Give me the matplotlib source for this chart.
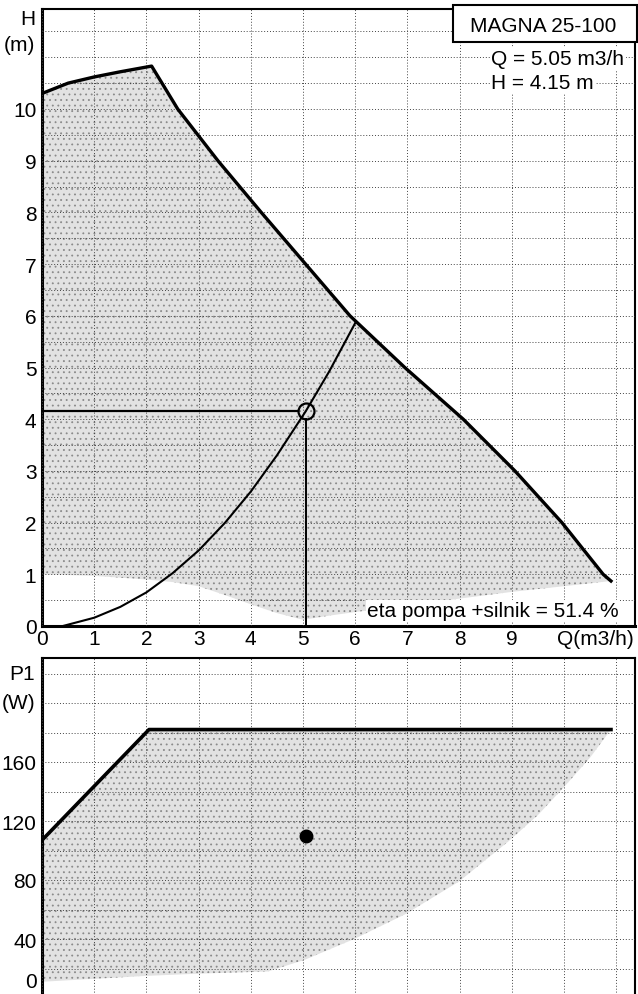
import numpy as np
import matplotlib.pyplot as plt
from matplotlib.patches import Rectangle

plt.rcParams['font.family'] = ['Liberation Sans', 'DejaVu Sans']
plt.rcParams['font.size'] = 15
plt.rcParams['hatch.linewidth'] = 0.6

# krzywa maksymalna H(Q)
q_max = [0, 0.5, 1, 1.5, 2.1, 2.6, 3.37, 4.2, 5.05, 5.9, 6.95, 8.07, 9.06, 9.96, 10.75, 10.9]
h_max = [10.3, 10.5, 10.62, 10.72, 10.83, 10.0, 9.0, 8.0, 7.0, 6.0, 5.0, 4.0, 3.0, 2.0, 1.0, 0.87]

# dolna granica pola pracy H(Q)
q_min = [0, 1, 2, 2.5, 3, 3.5, 4, 4.5, 5, 5.5, 6, 7, 8, 9, 10, 10.9]
h_min = [1.0, 0.97, 0.9, 0.85, 0.77, 0.6, 0.42, 0.25, 0.12, 0.2, 0.27, 0.4, 0.53, 0.66, 0.77, 0.87]

# krzywa instalacji
q_sys = [0.4, 1, 1.5, 2, 2.5, 3, 3.5, 4, 4.5, 5.05, 5.5, 6.0]
h_sys = [0.0, 0.16, 0.37, 0.65, 1.02, 1.46, 1.99, 2.6, 3.3, 4.15, 4.92, 5.86]

# moc P1(Q)
q_p1_max = [0, 2.05, 10.9]
p1_max = [107, 182, 182]
q_p1_min = [0, 1, 2, 3, 4.33, 5.04, 5.98, 6.97, 7.99, 8.93, 9.5, 10, 10.5, 10.9]
p1_min = [11, 13, 15, 16.5, 18, 26, 40, 57, 79, 106, 124, 143, 163, 182]

# punkt pracy
q_op = 5.05
h_op = 4.15
p_op = 110
eta = 51.4

x_ticks = list(range(0, 12))
x_labels = [str(i) for i in range(10)] + ['', '']

fill_kw = dict(facecolor='#e2e2e2', edgecolor='#8a8a8a', linewidth=0,
               hatch='...', zorder=1)
grid_kw = dict(color='#444444', linewidth=0.7, linestyle=(0, (1, 2)))

fig = plt.figure(figsize=(6.38, 9.95), dpi=100)

# --- wykres H(Q) ---
ax1 = fig.add_axes([42/638, 1 - 627/995, 593/638, 617/995])
ax1.set_xlim(0, 593/52.2)
ax1.set_ylim(0, 617/51.7)

ax1.fill(q_max + q_min[::-1], h_max + h_min[::-1], **fill_kw)
ax1.plot(q_max, h_max, color='black', lw=2.4, zorder=4)
ax1.plot(q_sys, h_sys, color='black', lw=1.5, zorder=4)

r_q = 8/52.2
r_h = 8/51.7
ax1.plot([0, q_op - r_q], [h_op, h_op], color='black', lw=1.6, zorder=4)
ax1.plot([q_op, q_op], [0, h_op - r_h], color='black', lw=1.4, zorder=4)
ax1.plot(q_op, h_op, 'o', ms=11.5, mfc='none', mec='black', mew=1.6, zorder=5)

ax1.set_xticks(x_ticks)
ax1.set_xticklabels(x_labels)
ax1.set_yticks(range(0, 11))
ax1.set_yticks(np.arange(0, 12, 0.5), minor=True)
ax1.grid(True, which='both', **grid_kw)
ax1.tick_params(which='both', length=0)
ax1.tick_params(axis='y', pad=4)
ax1.tick_params(axis='x', pad=2)
ax1.set_axisbelow(False)

ax1.annotate('Q(m3/h)', xy=(1, 0), xycoords='axes fraction',
             xytext=(-1, -2), textcoords='offset points', ha='right', va='top')
ax1.text(-0.012, 0.985, 'H', transform=ax1.transAxes, ha='right', va='center')
ax1.text(-0.012, 0.943, '(m)', transform=ax1.transAxes, ha='right', va='center')

ax1.add_patch(Rectangle((0.693, 0.9465), 0.31, 0.06, transform=ax1.transAxes,
                        facecolor='white', edgecolor='black', lw=1.5,
                        zorder=6, clip_on=False))
ax1.text(0.846, 0.973, 'MAGNA 25-100', transform=ax1.transAxes,
         ha='center', va='center', zorder=7)
box_kw = dict(facecolor='white', edgecolor='none', pad=1)
ax1.text(0.758, 0.919, 'Q = %.2f m3/h' % q_op, transform=ax1.transAxes,
         ha='left', va='center', bbox=box_kw, zorder=7)
ax1.text(0.758, 0.881, 'H = %.2f m' % h_op, transform=ax1.transAxes,
         ha='left', va='center', bbox=box_kw, zorder=7)
ax1.text(0.548, 0.025, 'eta pompa +silnik = %.1f %%' % eta,
         transform=ax1.transAxes, ha='left', va='center', bbox=box_kw, zorder=7)

for s in ax1.spines.values():
    s.set_linewidth(1.5)
ax1.spines['left'].set_linewidth(2.2)
ax1.spines['bottom'].set_linewidth(2.2)

# --- wykres P1(Q) ---
ax2 = fig.add_axes([42/638, 1 - 999/995, 593/638, 340/995])
ax2.set_xlim(0, 593/52.2)
ax2.set_ylim(0, 340/1.475)

ax2.fill(q_p1_max + q_p1_min[::-1], p1_max + p1_min[::-1], **fill_kw)
ax2.plot(q_p1_max, p1_max, color='black', lw=2.6, zorder=4)
ax2.plot(q_op, p_op, 'o', ms=9, color='black', zorder=5)

ax2.set_xticks(x_ticks)
ax2.set_xticklabels([])
ax2.set_yticks([40, 80, 120, 160])
ax2.set_yticks(np.arange(0, 240, 20), minor=True)
ax2.grid(True, which='both', **grid_kw)
ax2.tick_params(which='both', length=0)
ax2.tick_params(axis='y', pad=4)
ax2.set_axisbelow(False)

ax2.annotate('0', xy=(0, 0), xycoords='axes fraction', xytext=(-4, 12),
             textcoords='offset points', ha='right', va='center')
ax2.text(-0.012, 0.955, 'P1', transform=ax2.transAxes, ha='right', va='center')
ax2.text(-0.012, 0.868, '(W)', transform=ax2.transAxes, ha='right', va='center')

for s in ax2.spines.values():
    s.set_linewidth(1.5)
ax2.spines['left'].set_linewidth(2.2)

fig.savefig('out.png', dpi=100)
